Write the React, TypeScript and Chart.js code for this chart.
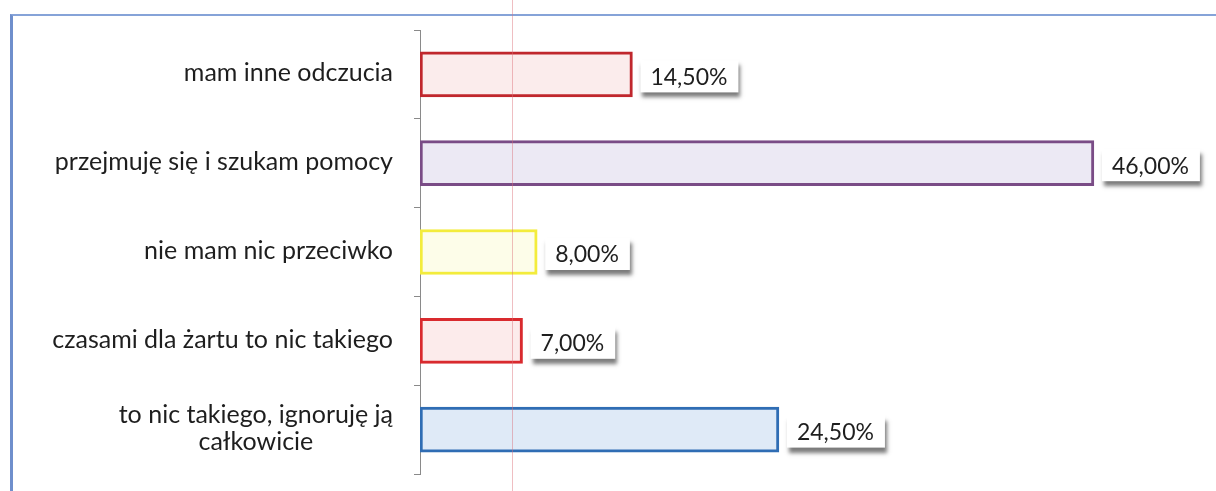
import React, { useEffect, useRef } from "react";
import { Chart, registerables } from "chart.js";
Chart.register(...registerables);

const categories: string[][] = [
  ["mam inne odczucia"],
  ["przejmuję się i szukam pomocy"],
  ["nie mam nic przeciwko"],
  ["czasami dla żartu to nic takiego"],
  ["to nic takiego, ignoruję ją", "całkowicie"],
];
const values = [14.5, 46, 8, 7, 24.5];
const valueLabels = ["14,50%", "46,00%", "8,00%", "7,00%", "24,50%"];
const borderColors = ["#c0272d", "#7a4c86", "#f3ec3c", "#d92a2e", "#2f6db4"];
const fillColors = ["#fbecec", "#ece9f4", "#fdfde9", "#fcebeb", "#dfeaf7"];

const FONT = "Lato, 'Open Sans', sans-serif";

const categoryLabelPlugin = {
  id: "categoryLabels",
  afterDraw(chart: any) {
    const ctx = chart.ctx;
    const yScale = chart.scales.y;
    const right = chart.chartArea.left - 27;
    ctx.save();
    ctx.font = `25px ${FONT}`;
    ctx.fillStyle = "#1e1e1e";
    ctx.textBaseline = "middle";
    ctx.textAlign = "center";
    const lh = 27;
    categories.forEach((lines, i) => {
      const yc = yScale.getPixelForValue(i) - 1;
      const w = Math.max(...lines.map((l) => ctx.measureText(l).width));
      const cx = right - w / 2;
      const y0 = yc - ((lines.length - 1) * lh) / 2;
      lines.forEach((l, j) => ctx.fillText(l, cx, y0 + j * lh));
    });
    ctx.restore();
  },
};

const valueLabelPlugin = {
  id: "valueLabels",
  afterDatasetsDraw(chart: any) {
    const ctx = chart.ctx;
    const meta = chart.getDatasetMeta(0);
    ctx.save();
    ctx.font = `23px ${FONT}`;
    ctx.textBaseline = "middle";
    ctx.textAlign = "left";
    meta.data.forEach((bar: any, i: number) => {
      const text = valueLabels[i];
      const tw = ctx.measureText(text).width;
      const bx = bar.x + 8;
      const by = bar.y - 14;
      const bw = tw + 21;
      const bh = 32;
      ctx.save();
      ctx.shadowColor = "rgba(90,90,90,0.8)";
      ctx.shadowBlur = 4;
      ctx.shadowOffsetX = 2;
      ctx.shadowOffsetY = 5;
      ctx.fillStyle = "#ffffff";
      ctx.fillRect(bx, by, bw, bh);
      ctx.restore();
      ctx.fillStyle = "#1e1e1e";
      ctx.fillText(text, bx + 10, by + bh / 2 + 1);
    });
    ctx.restore();
  },
};

export default function App() {
  const ref = useRef<HTMLCanvasElement | null>(null);
  useEffect(() => {
    if (!ref.current) return;
    const chart = new Chart(ref.current, {
      type: "bar",
      data: {
        labels: categories.map((c) => c.join(" ")),
        datasets: [
          {
            data: values,
            backgroundColor: fillColors,
            borderColor: borderColors,
            borderWidth: 3,
            borderSkipped: false,
            barThickness: 45,
          },
        ],
      },
      options: {
        indexAxis: "y",
        animation: false,
        responsive: false,
        maintainAspectRatio: false,
        layout: { padding: { top: 30, bottom: 17, right: 63.5, left: 0 } },
        plugins: { legend: { display: false }, tooltip: { enabled: false } },
        scales: {
          x: { display: false, min: 0, max: 50 },
          y: {
            ticks: { display: false },
            grid: {
              display: true,
              drawOnChartArea: false,
              drawTicks: true,
              tickLength: 6,
              color: "#8a8a8a",
              offset: true,
            },
            border: { display: true, color: "#8a8a8a", width: 1 },
            afterFit: (s: any) => {
              s.width = 420;
            },
          },
        },
      },
      plugins: [categoryLabelPlugin, valueLabelPlugin],
    });
    return () => chart.destroy();
  }, []);

  return (
    <div
      style={{
        position: "fixed",
        left: 0,
        top: 0,
        width: 1216,
        height: 491,
        overflow: "hidden",
        background: "#ffffff",
      }}
    >
      <div
        style={{
          position: "absolute",
          left: 10,
          top: 14,
          width: 1240,
          height: 520,
          borderTop: "2px solid #86a3d8",
          borderLeft: "3px solid #6f8fcc",
        }}
      />
      <canvas
        ref={ref}
        width={1216}
        height={491}
        style={{ position: "absolute", left: 0, top: 0, display: "block" }}
      />
      <div
        style={{
          position: "absolute",
          left: 512,
          top: 0,
          width: 1,
          height: 491,
          background: "rgba(220,110,120,0.45)",
        }}
      />
    </div>
  );
}
